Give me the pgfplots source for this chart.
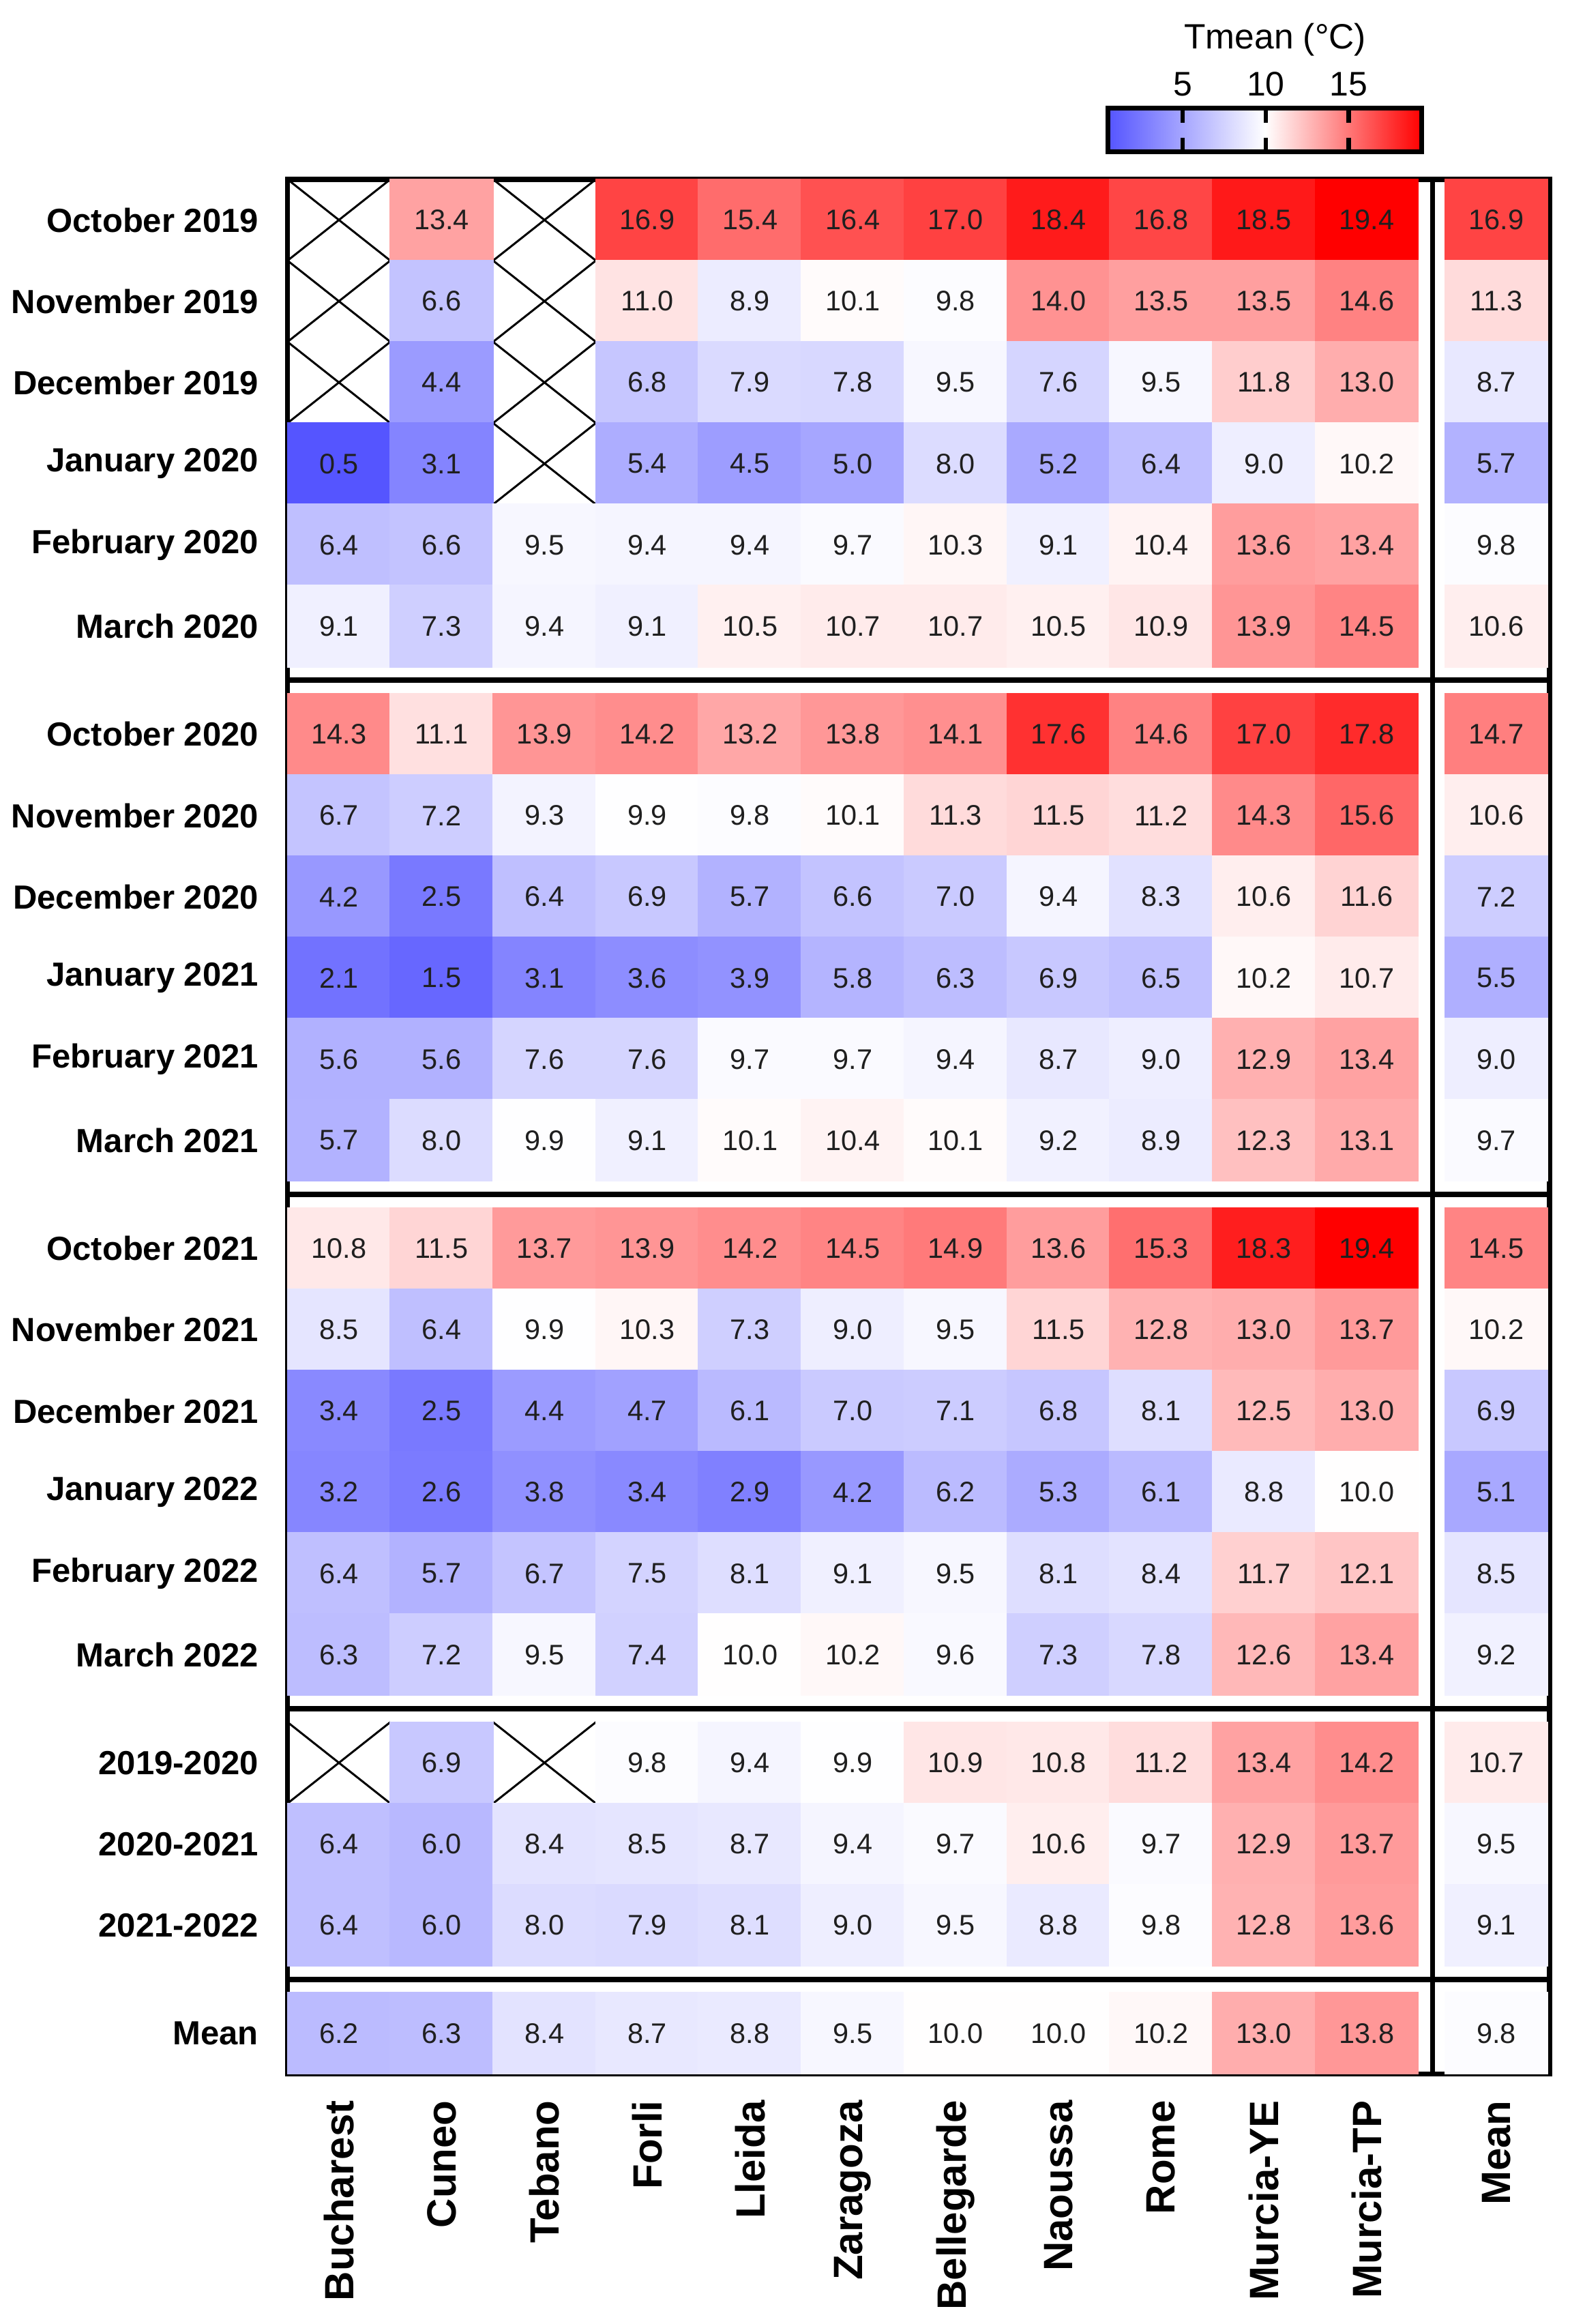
\documentclass[border=0pt]{standalone}
\usepackage{pgfplots}
\pgfplotsset{compat=1.18}
\usepackage{pgfplotstable}
\usepackage{fontspec}
\setmainfont{Liberation Sans}
\setsansfont{Liberation Sans}

\pgfplotsset{colormap={bwr}{rgb255=(85,85,255) rgb255=(255,255,255) rgb255=(255,0,0)}}

\pgfplotstableread{
pos Bucharest Cuneo Tebano Forli Lleida Zaragoza Bellegarde Naoussa Rome MurciaYE MurciaTP Mean
0      nan 13.4 nan 16.9 15.4 16.4 17.0 18.4 16.8 18.5 19.4 16.9
-1     nan 6.6 nan 11.0 8.9 10.1 9.8 14.0 13.5 13.5 14.6 11.3
-2     nan 4.4 nan 6.8 7.9 7.8 9.5 7.6 9.5 11.8 13.0 8.7
-3     0.5 3.1 nan 5.4 4.5 5.0 8.0 5.2 6.4 9.0 10.2 5.7
-4     6.4 6.6 9.5 9.4 9.4 9.7 10.3 9.1 10.4 13.6 13.4 9.8
-5     9.1 7.3 9.4 9.1 10.5 10.7 10.7 10.5 10.9 13.9 14.5 10.6
-6.33  14.3 11.1 13.9 14.2 13.2 13.8 14.1 17.6 14.6 17.0 17.8 14.7
-7.33  6.7 7.2 9.3 9.9 9.8 10.1 11.3 11.5 11.2 14.3 15.6 10.6
-8.33  4.2 2.5 6.4 6.9 5.7 6.6 7.0 9.4 8.3 10.6 11.6 7.2
-9.33  2.1 1.5 3.1 3.6 3.9 5.8 6.3 6.9 6.5 10.2 10.7 5.5
-10.33 5.6 5.6 7.6 7.6 9.7 9.7 9.4 8.7 9.0 12.9 13.4 9.0
-11.33 5.7 8.0 9.9 9.1 10.1 10.4 10.1 9.2 8.9 12.3 13.1 9.7
-12.66 10.8 11.5 13.7 13.9 14.2 14.5 14.9 13.6 15.3 18.3 19.4 14.5
-13.66 8.5 6.4 9.9 10.3 7.3 9.0 9.5 11.5 12.8 13.0 13.7 10.2
-14.66 3.4 2.5 4.4 4.7 6.1 7.0 7.1 6.8 8.1 12.5 13.0 6.9
-15.66 3.2 2.6 3.8 3.4 2.9 4.2 6.2 5.3 6.1 8.8 10.0 5.1
-16.66 6.4 5.7 6.7 7.5 8.1 9.1 9.5 8.1 8.4 11.7 12.1 8.5
-17.66 6.3 7.2 9.5 7.4 10.0 10.2 9.6 7.3 7.8 12.6 13.4 9.2
-18.99 nan 6.9 nan 9.8 9.4 9.9 10.9 10.8 11.2 13.4 14.2 10.7
-19.99 6.4 6.0 8.4 8.5 8.7 9.4 9.7 10.6 9.7 12.9 13.7 9.5
-20.99 6.4 6.0 8.0 7.9 8.1 9.0 9.5 8.8 9.8 12.8 13.6 9.1
-22.32 6.2 6.3 8.4 8.7 8.8 9.5 10.0 10.0 10.2 13.0 13.8 9.8
}\tmean

\pgfplotsset{
  cellplot/.style={scatter, only marks, mark=square*, mark size=11.91pt,
    mark options={xscale=1.2653, line width=0.4pt},
    scatter/use mapped color={draw=mapped color, fill=mapped color},
    point meta=explicit},
  numplot/.style={only marks, mark=none, point meta=explicit,
    nodes near coords={\pgfmathprintnumber[fixed,fixed zerofill,precision=1,assume math mode=true]{\pgfplotspointmeta}},
    every node near coord/.append style={anchor=center, font=\fontsize{8.3}{10}\selectfont, text=black!88, inner sep=0pt}},
}
\newcommand\heatcol[3][]{%
  \addplot[cellplot,#1] table[x expr=#2, y=pos, meta=#3] {\tmean};
  \addplot[numplot,#1] table[x expr=#2, y=pos, meta=#3] {\tmean};
}

\begin{document}
\begin{tikzpicture}
\begin{axis}[
  name=main,
  x=30.14pt, y=23.82pt,
  xmin=-0.5, xmax=11.78, ymin=-22.82, ymax=0.5,
  axis on top, clip=false,
  axis line style={line width=1.5pt},
  major tick length=0pt,
  xtick={0,1,2,3,4,5,6,7,8,9,10,11.26},
  xticklabels={Bucharest,Cuneo,Tebano,Forli,Lleida,Zaragoza,Bellegarde,Naoussa,Rome,Murcia-YE,Murcia-TP,Mean},
  xticklabel style={yshift=-4.3pt, rotate=90, anchor=east, font=\bfseries\fontsize{12}{14}\selectfont},
  ytick={0,-1,-2,-3,-4,-5,-6.33,-7.33,-8.33,-9.33,-10.33,-11.33,-12.66,-13.66,-14.66,-15.66,-16.66,-17.66,-18.99,-19.99,-20.99,-22.32},
  yticklabels={October 2019,November 2019,December 2019,January 2020,February 2020,March 2020,October 2020,November 2020,December 2020,January 2021,February 2021,March 2021,October 2021,November 2021,December 2021,January 2022,February 2022,March 2022,2019-2020,2020-2021,2021-2022,Mean},
  yticklabel style={font=\bfseries\fontsize{9.8}{12}\selectfont, xshift=-5pt},
  point meta min=0.5, point meta max=19.4,
]
\path (axis cs:-3.257,-25.898) rectangle (axis cs:11.972,2.708);

\heatcol[skip coords between index={0}{3}, skip coords between index={18}{19}]{0}{Bucharest}
\heatcol{1}{Cuneo}
\heatcol[skip coords between index={0}{4}, skip coords between index={18}{19}]{2}{Tebano}
\heatcol{3}{Forli}
\heatcol{4}{Lleida}
\heatcol{5}{Zaragoza}
\heatcol{6}{Bellegarde}
\heatcol{7}{Naoussa}
\heatcol{8}{Rome}
\heatcol{9}{MurciaYE}
\heatcol{10}{MurciaTP}
\heatcol{11.26}{Mean}

% crosses for missing values
\addplot[black, line width=0.6pt, mark=none, line join=bevel, unbounded coords=jump] coordinates {
(-0.5,0.5) (0.5,-0.5) (-0.5,-1.5) (0.5,-2.5) (nan,nan)
(0.5,0.5) (-0.5,-0.5) (0.5,-1.5) (-0.5,-2.5) (nan,nan)
(1.5,0.5) (2.5,-0.5) (1.5,-1.5) (2.5,-2.5) (1.5,-3.5) (nan,nan)
(2.5,0.5) (1.5,-0.5) (2.5,-1.5) (1.5,-2.5) (2.5,-3.5) (nan,nan)
(-0.5,-18.49) (0.5,-19.49) (nan,nan)
(-0.5,-19.49) (0.5,-18.49) (nan,nan)
(1.5,-18.49) (2.5,-19.49) (nan,nan)
(1.5,-19.49) (2.5,-18.49)
};

% block separators
\draw[line width=1.6pt] (axis cs:-0.5,-5.665) -- (axis cs:11.78,-5.665);
\draw[line width=1.6pt] (axis cs:-0.5,-11.995) -- (axis cs:11.78,-11.995);
\draw[line width=1.6pt] (axis cs:-0.5,-18.325) -- (axis cs:11.78,-18.325);
\draw[line width=1.6pt] (axis cs:-0.5,-21.655) -- (axis cs:11.78,-21.655);
\draw[line width=1.5pt] (axis cs:10.64,0.5) -- (axis cs:10.64,-22.82);
\end{axis}

% colour scale
\begin{axis}[
  at={(main.north east)}, anchor=south east, xshift=-37.5pt, yshift=8pt,
  scale only axis, width=92pt, height=12.8pt,
  xmin=0.5, xmax=19.4, ymin=0, ymax=1,
  point meta min=0.5, point meta max=19.4,
  axis on top, clip=false,
  ytick=\empty,
  xtick={5,10,15}, xticklabels={5,10,15},
  xtick pos=both, xticklabel pos=upper, xtick align=inside,
  major tick length=4.2pt,
  every tick/.style={black, line width=1.3pt},
  axis line style={line width=1.4pt},
  xticklabel style={font=\fontsize{10}{12}\selectfont},
]
\addplot[surf, shader=interp, mesh/rows=2, point meta=x] coordinates {(0.5,0) (19.4,0) (0.5,1) (19.4,1)};
\node[anchor=base, font=\fontsize{10.3}{12}\selectfont, yshift=17.4pt, xshift=3pt] at (rel axis cs:0.5,1) {Tmean (°C)};
\end{axis}
\end{tikzpicture}
\end{document}
